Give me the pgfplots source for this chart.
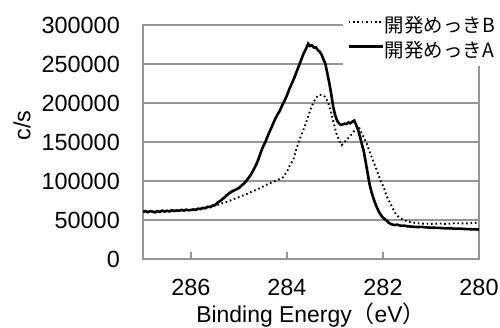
\documentclass[border=0pt]{standalone}
\usepackage{fontspec}
\setmainfont{Liberation Sans}
\newfontfamily\jp{Noto Sans CJK JP}
\usepackage{pgfplots}
\pgfplotsset{compat=1.18}
\definecolor{gridc}{RGB}{150,150,150}
\pgfplotstableread{
x y
287.00 60500
286.95 61500
286.90 60000
286.85 61200
286.80 60800
286.75 59800
286.70 61500
286.65 60500
286.60 62000
286.55 60800
286.50 61800
286.45 61000
286.40 62500
286.35 61500
286.30 62200
286.25 61800
286.20 63000
286.15 62000
286.10 63200
286.05 62500
286.00 62800
285.95 63500
285.90 63000
285.85 64500
285.80 64000
285.75 65500
285.70 65000
285.65 67000
285.60 66500
285.55 68500
285.50 69000
285.45 72200
285.40 74000
285.35 76500
285.30 79000
285.25 82000
285.20 84500
285.15 86500
285.10 88000
285.05 89500
285.00 91000
284.95 94000
284.90 96500
284.85 100000
284.80 104000
284.75 108500
284.70 114000
284.65 120000
284.60 127000
284.55 136000
284.50 144000
284.45 150000
284.40 158000
284.35 165000
284.30 172000
284.25 179000
284.20 185000
284.15 190000
284.10 197000
284.05 203000
284.00 210000
283.95 218000
283.90 225000
283.85 232000
283.80 240000
283.75 248000
283.70 256000
283.65 264000
283.60 270000
283.56 276000
283.52 273000
283.48 274000
283.44 271000
283.40 271500
283.36 268000
283.32 266000
283.28 262000
283.24 256000
283.20 250000
283.16 238000
283.12 226000
283.08 212000
283.04 196000
283.00 185000
282.96 178000
282.92 174000
282.88 172000
282.84 172500
282.80 173500
282.76 173000
282.72 175000
282.68 174000
282.64 176000
282.60 177500
282.56 172000
282.52 166000
282.48 157000
282.44 147000
282.40 138000
282.36 124000
282.32 110000
282.28 96000
282.24 86000
282.20 78000
282.16 71000
282.12 65000
282.08 60000
282.04 56000
282.00 53000
281.96 51000
281.92 49000
281.88 46500
281.84 45000
281.80 44000
281.75 43600
281.70 44000
281.65 43000
281.60 42500
281.55 42800
281.50 42000
281.40 41500
281.30 41000
281.20 41200
281.10 40500
281.00 40200
280.90 40000
280.80 39800
280.70 39300
280.60 39500
280.50 38800
280.40 39000
280.30 38500
280.20 38200
280.10 38000
280.00 37800
}\dataA
\pgfplotstableread{
x y
287.00 60500
286.50 61500
286.00 63000
285.80 64500
285.60 67000
285.45 69500
285.33 71800
285.20 74500
285.10 77000
284.98 80000
284.85 83000
284.77 85500
284.65 88500
284.56 91000
284.45 94500
284.35 97400
284.25 100000
284.15 102500
284.08 105000
284.00 112000
283.95 119000
283.87 127000
283.80 142000
283.72 156000
283.63 170000
283.56 183000
283.49 195000
283.42 204000
283.35 210000
283.28 210500
283.21 208000
283.15 202000
283.10 192000
283.03 175000
282.97 161000
282.90 150000
282.86 146000
282.80 150000
282.74 154000
282.69 157000
282.60 164000
282.51 170000
282.45 162000
282.38 153000
282.34 148000
282.25 133000
282.13 114000
282.05 100000
281.99 92700
281.92 80000
281.85 71800
281.78 63000
281.72 56400
281.65 52600
281.55 49500
281.45 47500
281.37 46500
281.20 45500
281.00 45000
280.80 45500
280.67 44900
280.50 46000
280.30 45500
280.05 46500
}\dataB
\begin{document}
\begin{tikzpicture}
\begin{axis}[
  name=ax,
  at={(0,0)}, anchor=south west,
  scale only axis,
  width=336bp, height=234bp,
  x dir=reverse,
  xmin=280, xmax=287,
  ymin=0, ymax=300000,
  xtick={280,282,284,286},
  ytick={0,50000,100000,150000,200000,250000,300000},
  scaled y ticks=false,
  scaled x ticks=false,
  /pgf/number format/assume math mode=true,
  yticklabel style={/pgf/number format/fixed,/pgf/number format/1000 sep={},
    anchor=east, inner sep=0pt, xshift=-23bp},
  xticklabel style={/pgf/number format/fixed,/pgf/number format/1000 sep={},
    anchor=north, inner sep=0pt, yshift=-20bp},
  tick label style={font=\fontsize{23.5}{27}\selectfont},
  ymajorgrids,
  grid style={gridc, line width=1.2bp},
  axis line style={gridc, line width=1.2bp},
  xtick align=inside,
  x tick style={gridc, line width=1.2bp},
  xtick pos=bottom,
  major tick length=7bp,
  ytick style={draw=none},
  xlabel={Binding Energy{\jp（}eV{\jp）}},
  xlabel style={font=\fontsize{23}{27}\selectfont, at={(axis description cs:0.5,0)}, anchor=center, yshift=-56bp},
  ylabel={c/s},
  ylabel style={font=\fontsize{23.5}{27}\selectfont, at={(axis description cs:-0.36,0.57)}, anchor=center},
  legend style={at={(axis description cs:1,1)}, anchor=north east, xshift=21bp, yshift=11bp,
    draw=none, fill=white, inner xsep=4bp, inner ysep=1bp,
    font=\jp\fontsize{19.5}{24}\selectfont,
    nodes={inner sep=1bp, text height=16bp, text depth=7bp},
    row sep=0pt},
  legend cell align=left,
  legend image code/.code={\draw[#1] (0bp,6bp) -- (34bp,6bp);},
]
\addplot[black, line width=1.9bp, dash pattern=on 1.6bp off 2.8bp] table[x=x,y=y] {\dataB};
\addlegendentry{開発めっきB}
\addplot[black, line width=2.6bp] table[x=x,y=y] {\dataA};
\addlegendentry{開発めっきA}
\end{axis}
\pgfresetboundingbox
\path[use as bounding box] ([shift={(-143bp,-69bp)}]ax.south west) rectangle ([shift={(357bp,259bp)}]ax.south west);
\end{tikzpicture}
\end{document}
